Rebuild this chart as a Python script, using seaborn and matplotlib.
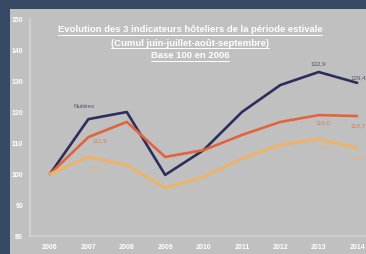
import pandas as pd
import matplotlib
matplotlib.use("Agg")
import matplotlib.pyplot as plt
import seaborn as sns
from matplotlib.patches import Rectangle
from matplotlib.lines import Line2D

years = [2006, 2007, 2008, 2009, 2010, 2011, 2012, 2013, 2014]
nuitees = [100, 117.7, 120.0, 99.7, 107.7, 120.0, 128.7, 132.9, 129.4]
arrivees = [100, 111.9, 116.8, 105.5, 107.7, 112.6, 116.8, 119.0, 118.7]
occupation = [100, 105.5, 102.9, 95.5, 99.0, 105.0, 109.4, 111.3, 108.4]
series_names = ["Nuitées", "Arrivées", "Taux d'occupation"]
title_lines = [
    "Evolution des 3 indicateurs hôteliers de la période estivale",
    "(Cumul juin-juillet-août-septembre)",
    "Base 100 en 2006",
]
y_ticks = [80, 90, 100, 110, 120, 130, 140, 150]

df = pd.DataFrame({
    "annee": years * 3,
    "indice": nuitees + arrivees + occupation,
    "serie": [series_names[0]] * 9 + [series_names[1]] * 9 + [series_names[2]] * 9,
})
colors = {"Nuitées": "#2c2f5c", "Arrivées": "#e2643c", "Taux d'occupation": "#f2b25e"}

sns.set_style("white")
plt.rcParams["font.family"] = ["Liberation Sans", "DejaVu Sans"]

fig = plt.figure(figsize=(3.66, 2.55), dpi=100)
fig.patch.set_facecolor("#364a66")
fig.patches.append(Rectangle((10 / 366, 0), 1, 1 - 10 / 255, transform=fig.transFigure,
                             facecolor="#c0c0c0", edgecolor="none", zorder=-5))

ax = fig.add_axes([30 / 366, 18 / 255, 336 / 366, 217 / 255])
ax.set_facecolor("#c0c0c0")
sns.lineplot(data=df, x="annee", y="indice", hue="serie", palette=colors,
             linewidth=1.9, legend=False, ax=ax)
ax.set_xlim(2005.48, 2014.23)
ax.set_ylim(80, 150)
ax.set_xticks(years)
ax.set_yticks(y_ticks)
ax.tick_params(colors="white", labelsize=5, length=0, pad=5)
for lbl in ax.get_xticklabels() + ax.get_yticklabels():
    lbl.set_fontweight("bold")
ax.set_xlabel("")
ax.set_ylabel("")
for s in ["top", "right"]:
    ax.spines[s].set_visible(False)
for s in ["left", "bottom"]:
    ax.spines[s].set_color("#d4d4d4")
    ax.spines[s].set_linewidth(1.2)

# data labels
lab = dict(fontsize=4.5, alpha=0.75)
ax.text(2006.9, 121.5, "Nuitées", color=colors["Nuitées"], ha="center", **lab)
ax.text(2013, 135.5, "132,9", color=colors["Nuitées"], ha="center", **lab)
ax.text(2014.22, 131, "129,4", color=colors["Nuitées"], ha="right", **lab)
ax.text(2007.3, 110.5, "111,9", color=colors["Arrivées"], ha="center", **lab)
ax.text(2013.1, 116.5, "119,0", color=colors["Arrivées"], ha="center", **lab)
ax.text(2014.22, 115.5, "118,7", color=colors["Arrivées"], ha="right", **lab)
ax.text(2007.2, 101.5, "105,5", color=colors["Taux d'occupation"], ha="center", **lab)
ax.text(2013.2, 108.5, "111,3", color=colors["Taux d'occupation"], ha="center", **lab)
ax.text(2014.22, 105, "108,4", color=colors["Taux d'occupation"], ha="right", **lab)

# underlined title
fig.canvas.draw()
renderer = fig.canvas.get_renderer()
for i, line in enumerate(title_lines):
    yf = 1 - (30 + 13 * i) / 255
    t = fig.text(190 / 366, yf, line, color="white", fontsize=6.8, fontweight="bold",
                 ha="center", va="center")
    bb = t.get_window_extent(renderer).transformed(fig.transFigure.inverted())
    fig.lines.append(Line2D([bb.x0, bb.x1], [bb.y0 - 0.004, bb.y0 - 0.004],
                            transform=fig.transFigure, color="white", linewidth=0.7))

fig.savefig("out.png", dpi=100, facecolor=fig.get_facecolor())
